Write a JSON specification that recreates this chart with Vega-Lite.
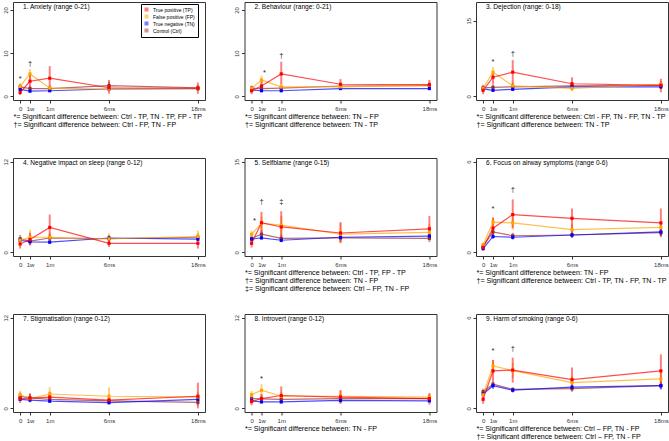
{
"$schema":"https://vega.github.io/schema/vega-lite/v6.json",
"padding":{"left":1,"top":1,"right":0,"bottom":0},
"datasets":{
"d":[
{"p":1,"g":"Ctrl","t":0,"m":2.2,"lo":1.5,"hi":2.9},{"p":1,"g":"Ctrl","t":1,"m":1.8,"lo":1.2,"hi":2.4},{"p":1,"g":"Ctrl","t":3,"m":1.8,"lo":1.3,"hi":2.3},{"p":1,"g":"Ctrl","t":9,"m":2.5,"lo":1.7,"hi":3.3},{"p":1,"g":"Ctrl","t":18,"m":2.0,"lo":1.4,"hi":2.6},
{"p":1,"g":"TN","t":0,"m":1.6,"lo":1.3,"hi":1.9},{"p":1,"g":"TN","t":1,"m":1.2,"lo":1.0,"hi":1.5},{"p":1,"g":"TN","t":3,"m":1.3,"lo":1.1,"hi":1.6},{"p":1,"g":"TN","t":9,"m":1.7,"lo":1.4,"hi":2.0},{"p":1,"g":"TN","t":18,"m":1.8,"lo":1.5,"hi":2.1},
{"p":1,"g":"FP","t":0,"m":2.3,"lo":1.6,"hi":3.0},{"p":1,"g":"FP","t":1,"m":5.2,"lo":3.6,"hi":6.3},{"p":1,"g":"FP","t":3,"m":1.9,"lo":1.3,"hi":2.6},{"p":1,"g":"FP","t":9,"m":1.7,"lo":1.2,"hi":2.2},{"p":1,"g":"FP","t":18,"m":1.9,"lo":1.3,"hi":2.6},
{"p":1,"g":"TP","t":0,"m":0.9,"lo":0.3,"hi":1.8},{"p":1,"g":"TP","t":1,"m":3.5,"lo":1.5,"hi":5.2},{"p":1,"g":"TP","t":3,"m":4.2,"lo":1.9,"hi":7.0},{"p":1,"g":"TP","t":9,"m":2.0,"lo":0.6,"hi":3.8},{"p":1,"g":"TP","t":18,"m":1.9,"lo":0.6,"hi":3.2},

{"p":2,"g":"Ctrl","t":0,"m":1.9,"lo":1.3,"hi":2.5},{"p":2,"g":"Ctrl","t":1,"m":1.8,"lo":1.2,"hi":2.4},{"p":2,"g":"Ctrl","t":3,"m":1.9,"lo":1.3,"hi":2.5},{"p":2,"g":"Ctrl","t":9,"m":2.4,"lo":1.7,"hi":3.1},{"p":2,"g":"Ctrl","t":18,"m":2.5,"lo":1.8,"hi":3.2},
{"p":2,"g":"TN","t":0,"m":1.5,"lo":1.2,"hi":1.8},{"p":2,"g":"TN","t":1,"m":1.3,"lo":1.0,"hi":1.6},{"p":2,"g":"TN","t":3,"m":1.3,"lo":1.0,"hi":1.6},{"p":2,"g":"TN","t":9,"m":1.8,"lo":1.5,"hi":2.1},{"p":2,"g":"TN","t":18,"m":1.8,"lo":1.5,"hi":2.1},
{"p":2,"g":"FP","t":0,"m":1.8,"lo":1.2,"hi":2.4},{"p":2,"g":"FP","t":1,"m":3.8,"lo":2.6,"hi":4.8},{"p":2,"g":"FP","t":3,"m":2.2,"lo":1.5,"hi":3.0},{"p":2,"g":"FP","t":9,"m":2.2,"lo":1.6,"hi":2.8},{"p":2,"g":"FP","t":18,"m":2.6,"lo":1.9,"hi":3.3},
{"p":2,"g":"TP","t":0,"m":1.3,"lo":0.5,"hi":2.1},{"p":2,"g":"TP","t":1,"m":2.4,"lo":1.3,"hi":3.5},{"p":2,"g":"TP","t":3,"m":5.2,"lo":2.8,"hi":8.0},{"p":2,"g":"TP","t":9,"m":2.8,"lo":1.5,"hi":4.0},{"p":2,"g":"TP","t":18,"m":2.7,"lo":1.5,"hi":3.8},

{"p":3,"g":"Ctrl","t":0,"m":1.7,"lo":1.1,"hi":2.3},{"p":3,"g":"Ctrl","t":1,"m":1.8,"lo":1.2,"hi":2.4},{"p":3,"g":"Ctrl","t":3,"m":1.9,"lo":1.3,"hi":2.5},{"p":3,"g":"Ctrl","t":9,"m":2.1,"lo":1.4,"hi":2.8},{"p":3,"g":"Ctrl","t":18,"m":2.2,"lo":1.5,"hi":2.9},
{"p":3,"g":"TN","t":0,"m":1.5,"lo":1.2,"hi":1.8},{"p":3,"g":"TN","t":1,"m":1.2,"lo":1.0,"hi":1.5},{"p":3,"g":"TN","t":3,"m":1.4,"lo":1.1,"hi":1.7},{"p":3,"g":"TN","t":9,"m":1.9,"lo":1.5,"hi":2.2},{"p":3,"g":"TN","t":18,"m":1.9,"lo":1.5,"hi":2.3},
{"p":3,"g":"FP","t":0,"m":1.6,"lo":1.1,"hi":2.1},{"p":3,"g":"FP","t":1,"m":4.8,"lo":3.8,"hi":5.8},{"p":3,"g":"FP","t":3,"m":2.1,"lo":1.5,"hi":2.8},{"p":3,"g":"FP","t":9,"m":1.6,"lo":1.0,"hi":2.2},{"p":3,"g":"FP","t":18,"m":2.4,"lo":1.7,"hi":3.1},
{"p":3,"g":"TP","t":0,"m":1.2,"lo":0.4,"hi":2.0},{"p":3,"g":"TP","t":1,"m":3.8,"lo":2.5,"hi":5.0},{"p":3,"g":"TP","t":3,"m":4.8,"lo":2.2,"hi":7.2},{"p":3,"g":"TP","t":9,"m":2.5,"lo":1.2,"hi":3.8},{"p":3,"g":"TP","t":18,"m":2.2,"lo":0.8,"hi":3.5},

{"p":4,"g":"Ctrl","t":0,"m":1.8,"lo":1.3,"hi":2.3},{"p":4,"g":"Ctrl","t":1,"m":1.5,"lo":1.0,"hi":2.0},{"p":4,"g":"Ctrl","t":3,"m":1.9,"lo":1.4,"hi":2.4},{"p":4,"g":"Ctrl","t":9,"m":1.8,"lo":1.3,"hi":2.3},{"p":4,"g":"Ctrl","t":18,"m":2.0,"lo":1.5,"hi":2.5},
{"p":4,"g":"TN","t":0,"m":1.6,"lo":1.4,"hi":1.8},{"p":4,"g":"TN","t":1,"m":1.4,"lo":1.2,"hi":1.6},{"p":4,"g":"TN","t":3,"m":1.35,"lo":1.1,"hi":1.6},{"p":4,"g":"TN","t":9,"m":1.9,"lo":1.6,"hi":2.2},{"p":4,"g":"TN","t":18,"m":1.75,"lo":1.5,"hi":2.0},
{"p":4,"g":"FP","t":0,"m":1.6,"lo":1.2,"hi":2.0},{"p":4,"g":"FP","t":1,"m":2.0,"lo":1.2,"hi":3.0},{"p":4,"g":"FP","t":3,"m":2.0,"lo":1.4,"hi":2.6},{"p":4,"g":"FP","t":9,"m":1.8,"lo":1.2,"hi":2.5},{"p":4,"g":"FP","t":18,"m":2.1,"lo":1.5,"hi":2.9},
{"p":4,"g":"TP","t":0,"m":1.1,"lo":0.5,"hi":1.7},{"p":4,"g":"TP","t":1,"m":1.7,"lo":0.9,"hi":2.6},{"p":4,"g":"TP","t":3,"m":3.3,"lo":2.0,"hi":5.0},{"p":4,"g":"TP","t":9,"m":1.2,"lo":0.7,"hi":1.9},{"p":4,"g":"TP","t":18,"m":1.2,"lo":0.5,"hi":1.8},

{"p":5,"g":"Ctrl","t":0,"m":2.3,"lo":1.8,"hi":2.8},{"p":5,"g":"Ctrl","t":1,"m":3.0,"lo":2.3,"hi":3.7},{"p":5,"g":"Ctrl","t":3,"m":2.3,"lo":1.7,"hi":2.9},{"p":5,"g":"Ctrl","t":9,"m":2.4,"lo":1.7,"hi":3.1},{"p":5,"g":"Ctrl","t":18,"m":2.3,"lo":1.7,"hi":2.9},
{"p":5,"g":"TN","t":0,"m":2.2,"lo":1.9,"hi":2.5},{"p":5,"g":"TN","t":1,"m":2.4,"lo":2.1,"hi":2.8},{"p":5,"g":"TN","t":3,"m":2.0,"lo":1.7,"hi":2.3},{"p":5,"g":"TN","t":9,"m":2.5,"lo":2.1,"hi":2.9},{"p":5,"g":"TN","t":18,"m":2.7,"lo":2.3,"hi":3.1},
{"p":5,"g":"FP","t":0,"m":3.0,"lo":2.4,"hi":3.6},{"p":5,"g":"FP","t":1,"m":4.8,"lo":3.8,"hi":5.9},{"p":5,"g":"FP","t":3,"m":4.5,"lo":2.8,"hi":6.0},{"p":5,"g":"FP","t":9,"m":3.0,"lo":1.5,"hi":4.8},{"p":5,"g":"FP","t":18,"m":3.3,"lo":2.2,"hi":4.6},
{"p":5,"g":"TP","t":0,"m":1.5,"lo":0.8,"hi":2.3},{"p":5,"g":"TP","t":1,"m":4.9,"lo":3.0,"hi":6.7},{"p":5,"g":"TP","t":3,"m":4.2,"lo":2.3,"hi":6.8},{"p":5,"g":"TP","t":9,"m":3.2,"lo":1.6,"hi":5.0},{"p":5,"g":"TP","t":18,"m":3.9,"lo":2.5,"hi":6.0},

{"p":6,"g":"Ctrl","t":0,"m":0.4,"lo":0.2,"hi":0.6},{"p":6,"g":"Ctrl","t":1,"m":1.35,"lo":1.1,"hi":1.6},{"p":6,"g":"Ctrl","t":3,"m":1.1,"lo":0.9,"hi":1.3},{"p":6,"g":"Ctrl","t":9,"m":1.15,"lo":0.95,"hi":1.35},{"p":6,"g":"Ctrl","t":18,"m":1.3,"lo":1.1,"hi":1.5},
{"p":6,"g":"TN","t":0,"m":0.25,"lo":0.2,"hi":0.35},{"p":6,"g":"TN","t":1,"m":1.05,"lo":0.9,"hi":1.2},{"p":6,"g":"TN","t":3,"m":1.0,"lo":0.85,"hi":1.15},{"p":6,"g":"TN","t":9,"m":1.15,"lo":1.0,"hi":1.3},{"p":6,"g":"TN","t":18,"m":1.35,"lo":1.1,"hi":1.6},
{"p":6,"g":"FP","t":0,"m":0.5,"lo":0.35,"hi":0.65},{"p":6,"g":"FP","t":1,"m":2.0,"lo":1.7,"hi":2.3},{"p":6,"g":"FP","t":3,"m":1.95,"lo":1.5,"hi":2.4},{"p":6,"g":"FP","t":9,"m":1.5,"lo":1.2,"hi":1.9},{"p":6,"g":"FP","t":18,"m":1.65,"lo":1.3,"hi":2.0},
{"p":6,"g":"TP","t":0,"m":0.33,"lo":0.1,"hi":0.6},{"p":6,"g":"TP","t":1,"m":1.6,"lo":1.0,"hi":2.3},{"p":6,"g":"TP","t":3,"m":2.5,"lo":1.6,"hi":3.5},{"p":6,"g":"TP","t":9,"m":2.25,"lo":1.3,"hi":2.9},{"p":6,"g":"TP","t":18,"m":1.95,"lo":1.0,"hi":2.9},

{"p":7,"g":"Ctrl","t":0,"m":1.6,"lo":1.1,"hi":2.1},{"p":7,"g":"Ctrl","t":1,"m":1.4,"lo":0.9,"hi":1.9},{"p":7,"g":"Ctrl","t":3,"m":1.2,"lo":0.8,"hi":1.6},{"p":7,"g":"Ctrl","t":9,"m":1.0,"lo":0.6,"hi":1.4},{"p":7,"g":"Ctrl","t":18,"m":0.8,"lo":0.4,"hi":1.2},
{"p":7,"g":"TN","t":0,"m":1.2,"lo":1.05,"hi":1.35},{"p":7,"g":"TN","t":1,"m":1.1,"lo":0.95,"hi":1.25},{"p":7,"g":"TN","t":3,"m":0.95,"lo":0.8,"hi":1.1},{"p":7,"g":"TN","t":9,"m":0.75,"lo":0.6,"hi":0.9},{"p":7,"g":"TN","t":18,"m":1.2,"lo":1.0,"hi":1.4},
{"p":7,"g":"FP","t":0,"m":1.8,"lo":1.3,"hi":2.3},{"p":7,"g":"FP","t":1,"m":1.3,"lo":0.9,"hi":1.8},{"p":7,"g":"FP","t":3,"m":1.9,"lo":1.3,"hi":2.8},{"p":7,"g":"FP","t":9,"m":1.6,"lo":0.9,"hi":2.8},{"p":7,"g":"FP","t":18,"m":1.5,"lo":0.9,"hi":2.2},
{"p":7,"g":"TP","t":0,"m":1.3,"lo":0.7,"hi":1.9},{"p":7,"g":"TP","t":1,"m":1.35,"lo":0.8,"hi":2.0},{"p":7,"g":"TP","t":3,"m":1.5,"lo":0.8,"hi":2.2},{"p":7,"g":"TP","t":9,"m":1.1,"lo":0.5,"hi":1.8},{"p":7,"g":"TP","t":18,"m":1.6,"lo":0.0,"hi":3.4},

{"p":8,"g":"Ctrl","t":0,"m":1.3,"lo":0.8,"hi":1.8},{"p":8,"g":"Ctrl","t":1,"m":1.25,"lo":0.8,"hi":1.7},{"p":8,"g":"Ctrl","t":3,"m":1.2,"lo":0.7,"hi":1.7},{"p":8,"g":"Ctrl","t":9,"m":1.3,"lo":0.7,"hi":1.9},{"p":8,"g":"Ctrl","t":18,"m":1.3,"lo":0.8,"hi":1.8},
{"p":8,"g":"TN","t":0,"m":1.0,"lo":0.85,"hi":1.15},{"p":8,"g":"TN","t":1,"m":0.85,"lo":0.7,"hi":1.0},{"p":8,"g":"TN","t":3,"m":0.85,"lo":0.7,"hi":1.0},{"p":8,"g":"TN","t":9,"m":1.05,"lo":0.9,"hi":1.2},{"p":8,"g":"TN","t":18,"m":1.0,"lo":0.85,"hi":1.15},
{"p":8,"g":"FP","t":0,"m":1.8,"lo":1.3,"hi":2.3},{"p":8,"g":"FP","t":1,"m":2.4,"lo":1.7,"hi":3.2},{"p":8,"g":"FP","t":3,"m":1.6,"lo":1.0,"hi":2.2},{"p":8,"g":"FP","t":9,"m":1.6,"lo":0.9,"hi":2.4},{"p":8,"g":"FP","t":18,"m":1.5,"lo":1.0,"hi":2.0},
{"p":8,"g":"TP","t":0,"m":0.9,"lo":0.4,"hi":1.4},{"p":8,"g":"TP","t":1,"m":1.3,"lo":0.7,"hi":1.9},{"p":8,"g":"TP","t":3,"m":1.7,"lo":0.7,"hi":2.9},{"p":8,"g":"TP","t":9,"m":1.5,"lo":0.6,"hi":2.4},{"p":8,"g":"TP","t":18,"m":1.3,"lo":0.5,"hi":2.0},

{"p":9,"g":"Ctrl","t":0,"m":1.1,"lo":0.9,"hi":1.3},{"p":9,"g":"Ctrl","t":1,"m":1.6,"lo":1.4,"hi":1.8},{"p":9,"g":"Ctrl","t":3,"m":1.25,"lo":1.1,"hi":1.4},{"p":9,"g":"Ctrl","t":9,"m":1.3,"lo":1.1,"hi":1.5},{"p":9,"g":"Ctrl","t":18,"m":1.5,"lo":1.3,"hi":1.7},
{"p":9,"g":"TN","t":0,"m":0.95,"lo":0.85,"hi":1.05},{"p":9,"g":"TN","t":1,"m":1.5,"lo":1.3,"hi":1.7},{"p":9,"g":"TN","t":3,"m":1.2,"lo":1.05,"hi":1.35},{"p":9,"g":"TN","t":9,"m":1.4,"lo":1.25,"hi":1.55},{"p":9,"g":"TN","t":18,"m":1.5,"lo":1.25,"hi":1.75},
{"p":9,"g":"FP","t":0,"m":0.9,"lo":0.75,"hi":1.05},{"p":9,"g":"FP","t":1,"m":2.8,"lo":2.3,"hi":3.2},{"p":9,"g":"FP","t":3,"m":2.5,"lo":2.0,"hi":3.0},{"p":9,"g":"FP","t":9,"m":1.7,"lo":1.3,"hi":2.1},{"p":9,"g":"FP","t":18,"m":1.95,"lo":1.5,"hi":2.4},
{"p":9,"g":"TP","t":0,"m":0.6,"lo":0.3,"hi":0.85},{"p":9,"g":"TP","t":1,"m":2.48,"lo":1.8,"hi":3.2},{"p":9,"g":"TP","t":3,"m":2.53,"lo":1.7,"hi":3.35},{"p":9,"g":"TP","t":9,"m":1.9,"lo":1.2,"hi":2.7},{"p":9,"g":"TP","t":18,"m":2.48,"lo":1.6,"hi":3.57}
],
"a":[
{"p":1,"t":0,"y":4.0,"s":"*"},{"p":1,"t":1,"y":7.5,"s":"†"},
{"p":2,"t":1.3,"y":5.5,"s":"*"},{"p":2,"t":3,"y":9.4,"s":"†"},
{"p":3,"t":1,"y":6.8,"s":"*"},{"p":3,"t":3,"y":8.5,"s":"†"},
{"p":5,"t":0.3,"y":5.2,"s":"*"},{"p":5,"t":1,"y":8.4,"s":"†"},{"p":5,"t":3,"y":8.4,"s":"‡"},
{"p":6,"t":1,"y":2.9,"s":"*"},{"p":6,"t":3,"y":4.1,"s":"†"},
{"p":8,"t":1,"y":3.9,"s":"*"},
{"p":9,"t":1,"y":3.8,"s":"*"},{"p":9,"t":3,"y":3.9,"s":"†"}
]
},
"concat":[
{"width":192,"height":98,"view":{"stroke":"#333"},"title":"1. Anxiety (range 0-21)","data":{"name":"d"},"transform":[{"filter":"datum.p==1"}],
 "encoding":{"x":{"field":"t","type":"quantitative","scale":{"domain":[-0.72,18.72],"nice":false,"zero":false},"axis":{"values":[0,1,3,9,18],"labelExpr":"{'0':'0','1':'1w','3':'1m','9':'6ms','18':'18ms'}[datum.value]","title":["*= Significant difference between: Ctrl - TP, TN - TP, FP - TP","†= Significant difference between: Ctrl - FP, TN - FP"]}}},
 "layer":[
  {"mark":{"type":"rule","strokeWidth":2,"opacity":0.5},"encoding":{"y":{"field":"lo","type":"quantitative","title":null,"scale":{"domain":[-0.84,21.84],"nice":false,"zero":false},"axis":{"values":[0,5,10,15,20]}},"y2":{"field":"hi"},"color":{"field":"g","type":"nominal","scale":{"domain":["TP","FP","TN","Ctrl"],"range":["#FF0000","#FFA500","#0000FF","#9B2D2D"]}}}},
  {"mark":{"type":"line","strokeWidth":1.2,"opacity":0.7},"encoding":{"y":{"field":"m","type":"quantitative","title":null},"color":{"field":"g","type":"nominal"}}},
  {"mark":{"type":"square","size":10,"opacity":1},"encoding":{"y":{"field":"m","type":"quantitative","title":null},"color":{"field":"g","type":"nominal","legend":{"orient":"none","legendX":128,"legendY":2,"title":null,"strokeColor":"#000","padding":3,"symbolType":"square","symbolSize":12,"labelFontSize":5,"labelOffset":4,"rowPadding":0,"symbolStrokeColor":"#333","symbolStrokeWidth":0.5,"fillColor":"#fff","symbolOpacity":1,"labelExpr":"{'TP':'True positive (TP)','FP':'False positive (FP)','TN':'True negative (TN)','Ctrl':'Control (Ctrl)'}[datum.label]"}}}},
  {"data":{"name":"a"},"transform":[{"filter":"datum.p==1"}],"mark":{"type":"text","fontSize":7.5,"color":"#222"},"encoding":{"y":{"field":"y","type":"quantitative","title":null},"text":{"field":"s"}}}
 ]},
{"width":192,"height":98,"view":{"stroke":"#333"},"title":"2. Behaviour (range: 0-21)","data":{"name":"d"},"transform":[{"filter":"datum.p==2"}],
 "encoding":{"x":{"field":"t","type":"quantitative","scale":{"domain":[-0.72,18.72],"nice":false,"zero":false},"axis":{"values":[0,1,3,9,18],"labelExpr":"{'0':'0','1':'1w','3':'1m','9':'6ms','18':'18ms'}[datum.value]","title":["*= Significant difference between: TN – FP","†= Significant difference between: TN - TP"]}}},
 "layer":[
  {"mark":{"type":"rule","strokeWidth":2,"opacity":0.5},"encoding":{"y":{"field":"lo","type":"quantitative","title":null,"scale":{"domain":[-0.84,21.84],"nice":false,"zero":false},"axis":{"values":[0,5,10,15,20]}},"y2":{"field":"hi"},"color":{"field":"g","type":"nominal","scale":{"domain":["TP","FP","TN","Ctrl"],"range":["#FF0000","#FFA500","#0000FF","#9B2D2D"]},"legend":null}}},
  {"mark":{"type":"line","strokeWidth":1.2,"opacity":0.7},"encoding":{"y":{"field":"m","type":"quantitative","title":null},"color":{"field":"g","type":"nominal","legend":null}}},
  {"mark":{"type":"square","size":10,"opacity":1},"encoding":{"y":{"field":"m","type":"quantitative","title":null},"color":{"field":"g","type":"nominal","legend":null}}},
  {"data":{"name":"a"},"transform":[{"filter":"datum.p==2"}],"mark":{"type":"text","fontSize":7.5,"color":"#222"},"encoding":{"y":{"field":"y","type":"quantitative","title":null},"text":{"field":"s"}}}
 ]},
{"width":192,"height":98,"view":{"stroke":"#333"},"title":"3. Dejection (range: 0-18)","data":{"name":"d"},"transform":[{"filter":"datum.p==3"}],
 "encoding":{"x":{"field":"t","type":"quantitative","scale":{"domain":[-0.72,18.72],"nice":false,"zero":false},"axis":{"values":[0,1,3,9,18],"labelExpr":"{'0':'0','1':'1w','3':'1m','9':'6ms','18':'18ms'}[datum.value]","title":["*= Significant difference between: Ctrl - FP, TN - FP, TN - TP","†= Significant difference between: TN - TP"]}}},
 "layer":[
  {"mark":{"type":"rule","strokeWidth":2,"opacity":0.5},"encoding":{"y":{"field":"lo","type":"quantitative","title":null,"scale":{"domain":[-0.72,18.72],"nice":false,"zero":false},"axis":{"values":[0,5,10,15]}},"y2":{"field":"hi"},"color":{"field":"g","type":"nominal","scale":{"domain":["TP","FP","TN","Ctrl"],"range":["#FF0000","#FFA500","#0000FF","#9B2D2D"]},"legend":null}}},
  {"mark":{"type":"line","strokeWidth":1.2,"opacity":0.7},"encoding":{"y":{"field":"m","type":"quantitative","title":null},"color":{"field":"g","type":"nominal","legend":null}}},
  {"mark":{"type":"square","size":10,"opacity":1},"encoding":{"y":{"field":"m","type":"quantitative","title":null},"color":{"field":"g","type":"nominal","legend":null}}},
  {"data":{"name":"a"},"transform":[{"filter":"datum.p==3"}],"mark":{"type":"text","fontSize":7.5,"color":"#222"},"encoding":{"y":{"field":"y","type":"quantitative","title":null},"text":{"field":"s"}}}
 ]},
{"width":192,"height":98,"view":{"stroke":"#333"},"title":"4. Negative impact on sleep (range 0-12)","data":{"name":"d"},"transform":[{"filter":"datum.p==4"}],
 "encoding":{"x":{"field":"t","type":"quantitative","scale":{"domain":[-0.72,18.72],"nice":false,"zero":false},"axis":{"values":[0,1,3,9,18],"labelExpr":"{'0':'0','1':'1w','3':'1m','9':'6ms','18':'18ms'}[datum.value]","title":null}}},
 "layer":[
  {"mark":{"type":"rule","strokeWidth":2,"opacity":0.5},"encoding":{"y":{"field":"lo","type":"quantitative","title":null,"scale":{"domain":[-0.48,12.48],"nice":false,"zero":false},"axis":{"values":[0,2,4,6,8,10,12]}},"y2":{"field":"hi"},"color":{"field":"g","type":"nominal","scale":{"domain":["TP","FP","TN","Ctrl"],"range":["#FF0000","#FFA500","#0000FF","#9B2D2D"]},"legend":null}}},
  {"mark":{"type":"line","strokeWidth":1.2,"opacity":0.7},"encoding":{"y":{"field":"m","type":"quantitative","title":null},"color":{"field":"g","type":"nominal","legend":null}}},
  {"mark":{"type":"square","size":10,"opacity":1},"encoding":{"y":{"field":"m","type":"quantitative","title":null},"color":{"field":"g","type":"nominal","legend":null}}}
 ]},
{"width":192,"height":98,"view":{"stroke":"#333"},"title":"5. Selfblame (range 0-15)","data":{"name":"d"},"transform":[{"filter":"datum.p==5"}],
 "encoding":{"x":{"field":"t","type":"quantitative","scale":{"domain":[-0.72,18.72],"nice":false,"zero":false},"axis":{"values":[0,1,3,9,18],"labelExpr":"{'0':'0','1':'1w','3':'1m','9':'6ms','18':'18ms'}[datum.value]","title":["*= Significant difference between: Ctrl - TP, FP - TP","†= Significant difference between: TN - FP","‡= Significant difference between: Ctrl – FP, TN - FP"]}}},
 "layer":[
  {"mark":{"type":"rule","strokeWidth":2,"opacity":0.5},"encoding":{"y":{"field":"lo","type":"quantitative","title":null,"scale":{"domain":[-0.6,15.6],"nice":false,"zero":false},"axis":{"values":[0,5,10,15]}},"y2":{"field":"hi"},"color":{"field":"g","type":"nominal","scale":{"domain":["TP","FP","TN","Ctrl"],"range":["#FF0000","#FFA500","#0000FF","#9B2D2D"]},"legend":null}}},
  {"mark":{"type":"line","strokeWidth":1.2,"opacity":0.7},"encoding":{"y":{"field":"m","type":"quantitative","title":null},"color":{"field":"g","type":"nominal","legend":null}}},
  {"mark":{"type":"square","size":10,"opacity":1},"encoding":{"y":{"field":"m","type":"quantitative","title":null},"color":{"field":"g","type":"nominal","legend":null}}},
  {"data":{"name":"a"},"transform":[{"filter":"datum.p==5"}],"mark":{"type":"text","fontSize":7.5,"color":"#222"},"encoding":{"y":{"field":"y","type":"quantitative","title":null},"text":{"field":"s"}}}
 ]},
{"width":192,"height":98,"view":{"stroke":"#333"},"title":"6. Focus on airway symptoms (range 0-6)","data":{"name":"d"},"transform":[{"filter":"datum.p==6"}],
 "encoding":{"x":{"field":"t","type":"quantitative","scale":{"domain":[-0.72,18.72],"nice":false,"zero":false},"axis":{"values":[0,1,3,9,18],"labelExpr":"{'0':'0','1':'1w','3':'1m','9':'6ms','18':'18ms'}[datum.value]","title":["*= Significant difference between: TN - FP","†= Significant difference between: Ctrl - TP, TN - FP, TN - TP"]}}},
 "layer":[
  {"mark":{"type":"rule","strokeWidth":2,"opacity":0.5},"encoding":{"y":{"field":"lo","type":"quantitative","title":null,"scale":{"domain":[-0.24,6.24],"nice":false,"zero":false},"axis":{"values":[0,1,2,3,4,5,6]}},"y2":{"field":"hi"},"color":{"field":"g","type":"nominal","scale":{"domain":["TP","FP","TN","Ctrl"],"range":["#FF0000","#FFA500","#0000FF","#9B2D2D"]},"legend":null}}},
  {"mark":{"type":"line","strokeWidth":1.2,"opacity":0.7},"encoding":{"y":{"field":"m","type":"quantitative","title":null},"color":{"field":"g","type":"nominal","legend":null}}},
  {"mark":{"type":"square","size":10,"opacity":1},"encoding":{"y":{"field":"m","type":"quantitative","title":null},"color":{"field":"g","type":"nominal","legend":null}}},
  {"data":{"name":"a"},"transform":[{"filter":"datum.p==6"}],"mark":{"type":"text","fontSize":7.5,"color":"#222"},"encoding":{"y":{"field":"y","type":"quantitative","title":null},"text":{"field":"s"}}}
 ]},
{"width":192,"height":98,"view":{"stroke":"#333"},"title":"7. Stigmatisation (range 0-12)","data":{"name":"d"},"transform":[{"filter":"datum.p==7"}],
 "encoding":{"x":{"field":"t","type":"quantitative","scale":{"domain":[-0.72,18.72],"nice":false,"zero":false},"axis":{"values":[0,1,3,9,18],"labelExpr":"{'0':'0','1':'1w','3':'1m','9':'6ms','18':'18ms'}[datum.value]","title":null}}},
 "layer":[
  {"mark":{"type":"rule","strokeWidth":2,"opacity":0.5},"encoding":{"y":{"field":"lo","type":"quantitative","title":null,"scale":{"domain":[-0.48,12.48],"nice":false,"zero":false},"axis":{"values":[0,2,4,6,8,10,12]}},"y2":{"field":"hi"},"color":{"field":"g","type":"nominal","scale":{"domain":["TP","FP","TN","Ctrl"],"range":["#FF0000","#FFA500","#0000FF","#9B2D2D"]},"legend":null}}},
  {"mark":{"type":"line","strokeWidth":1.2,"opacity":0.7},"encoding":{"y":{"field":"m","type":"quantitative","title":null},"color":{"field":"g","type":"nominal","legend":null}}},
  {"mark":{"type":"square","size":10,"opacity":1},"encoding":{"y":{"field":"m","type":"quantitative","title":null},"color":{"field":"g","type":"nominal","legend":null}}}
 ]},
{"width":192,"height":98,"view":{"stroke":"#333"},"title":"8. Introvert (range 0-12)","data":{"name":"d"},"transform":[{"filter":"datum.p==8"}],
 "encoding":{"x":{"field":"t","type":"quantitative","scale":{"domain":[-0.72,18.72],"nice":false,"zero":false},"axis":{"values":[0,1,3,9,18],"labelExpr":"{'0':'0','1':'1w','3':'1m','9':'6ms','18':'18ms'}[datum.value]","title":["*= Significant difference between: TN - FP"]}}},
 "layer":[
  {"mark":{"type":"rule","strokeWidth":2,"opacity":0.5},"encoding":{"y":{"field":"lo","type":"quantitative","title":null,"scale":{"domain":[-0.48,12.48],"nice":false,"zero":false},"axis":{"values":[0,2,4,6,8,10,12]}},"y2":{"field":"hi"},"color":{"field":"g","type":"nominal","scale":{"domain":["TP","FP","TN","Ctrl"],"range":["#FF0000","#FFA500","#0000FF","#9B2D2D"]},"legend":null}}},
  {"mark":{"type":"line","strokeWidth":1.2,"opacity":0.7},"encoding":{"y":{"field":"m","type":"quantitative","title":null},"color":{"field":"g","type":"nominal","legend":null}}},
  {"mark":{"type":"square","size":10,"opacity":1},"encoding":{"y":{"field":"m","type":"quantitative","title":null},"color":{"field":"g","type":"nominal","legend":null}}},
  {"data":{"name":"a"},"transform":[{"filter":"datum.p==8"}],"mark":{"type":"text","fontSize":7.5,"color":"#222"},"encoding":{"y":{"field":"y","type":"quantitative","title":null},"text":{"field":"s"}}}
 ]},
{"width":192,"height":98,"view":{"stroke":"#333"},"title":"9. Harm of smoking (range 0-6)","data":{"name":"d"},"transform":[{"filter":"datum.p==9"}],
 "encoding":{"x":{"field":"t","type":"quantitative","scale":{"domain":[-0.72,18.72],"nice":false,"zero":false},"axis":{"values":[0,1,3,9,18],"labelExpr":"{'0':'0','1':'1w','3':'1m','9':'6ms','18':'18ms'}[datum.value]","title":["*= Significant difference between: Ctrl – FP, TN - FP","†= Significant difference between: Ctrl – FP, TN - FP"]}}},
 "layer":[
  {"mark":{"type":"rule","strokeWidth":2,"opacity":0.5},"encoding":{"y":{"field":"lo","type":"quantitative","title":null,"scale":{"domain":[-0.24,6.24],"nice":false,"zero":false},"axis":{"values":[0,1,2,3,4,5,6]}},"y2":{"field":"hi"},"color":{"field":"g","type":"nominal","scale":{"domain":["TP","FP","TN","Ctrl"],"range":["#FF0000","#FFA500","#0000FF","#9B2D2D"]},"legend":null}}},
  {"mark":{"type":"line","strokeWidth":1.2,"opacity":0.7},"encoding":{"y":{"field":"m","type":"quantitative","title":null},"color":{"field":"g","type":"nominal","legend":null}}},
  {"mark":{"type":"square","size":10,"opacity":1},"encoding":{"y":{"field":"m","type":"quantitative","title":null},"color":{"field":"g","type":"nominal","legend":null}}},
  {"data":{"name":"a"},"transform":[{"filter":"datum.p==9"}],"mark":{"type":"text","fontSize":7.5,"color":"#222"},"encoding":{"y":{"field":"y","type":"quantitative","title":null},"text":{"field":"s"}}}
 ]}
],
"columns":3,
"spacing":{"row":58,"column":39.5},
"bounds":"flush",
"resolve":{"legend":{"color":"independent"}},
"config":{
 "font":"Liberation Sans",
 "view":{"stroke":"#333","strokeWidth":1},
 "axis":{"domain":false,"grid":false,"tickColor":"#333","tickSize":3,"labelFontSize":6,"labelColor":"#333","labelOverlap":false,"titleFontSize":7.1,"titleFontWeight":"normal","titleColor":"#000"},
 "axisX":{"titleAnchor":"start","titleAlign":"left","titleBaseline":"top","titleLineHeight":8.2,"titlePadding":1,"labelPadding":2},
 "axisY":{"labelAngle":270,"labelAlign":"center","labelBaseline":"bottom","labelPadding":2},
 "title":{"anchor":"start","frame":"group","fontSize":6.6,"fontWeight":"normal","offset":-9,"dx":10,"color":"#000"}
}
}
